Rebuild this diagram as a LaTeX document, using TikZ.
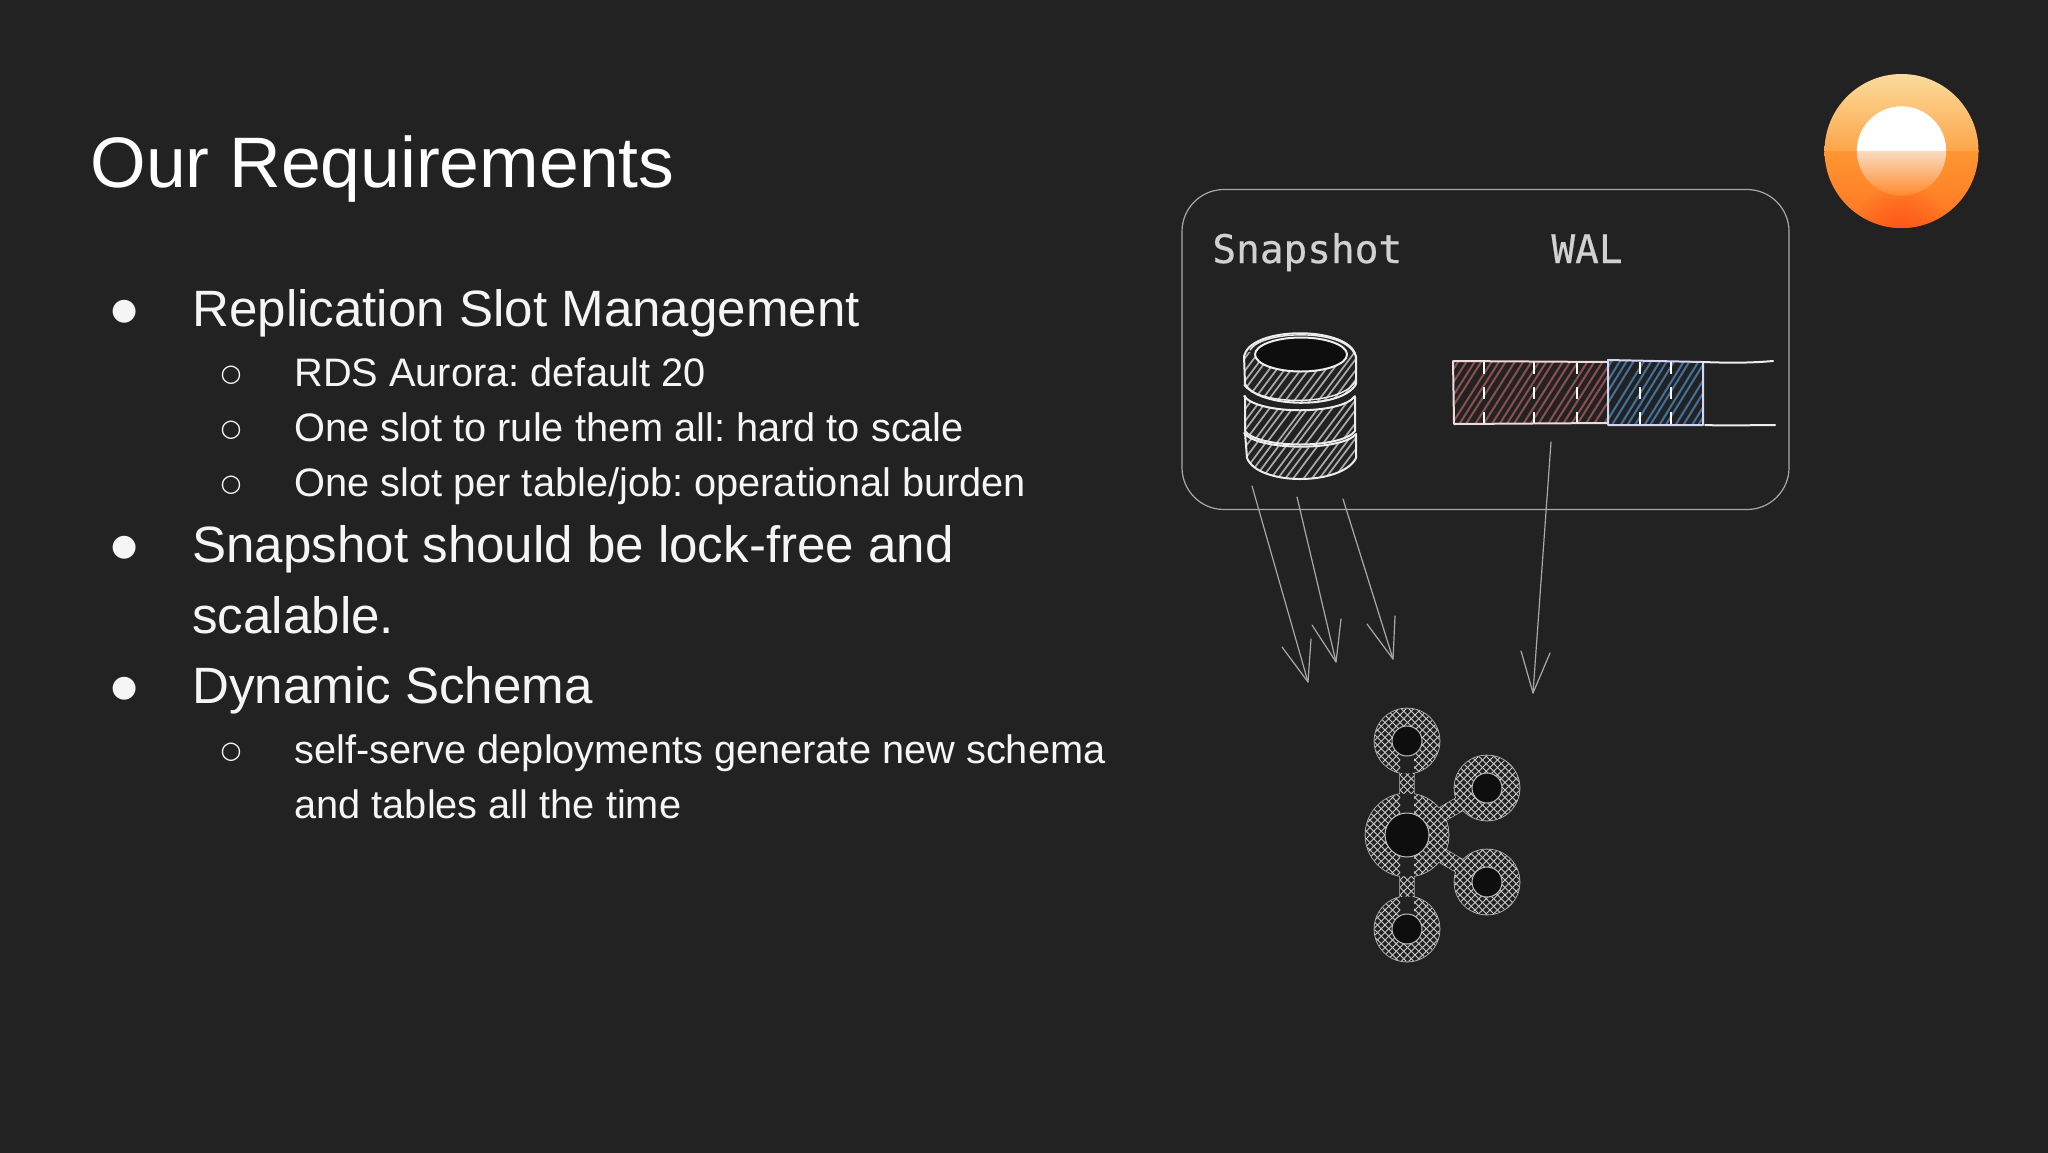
\documentclass[tikz,border=0pt]{standalone}
\usepackage{fontspec}
\setmainfont{Liberation Sans}
\newfontfamily\symfont{DejaVu Sans}
\newfontfamily\monofont[FakeBold=0.5]{DejaVu Sans Mono}
\usetikzlibrary{fadings}
\frenchspacing
\definecolor{bgc}{HTML}{222222}
\definecolor{bodyc}{HTML}{F5F5F5}
\definecolor{sketch}{HTML}{EDEDED}
\definecolor{thin}{HTML}{A8A8A8}
\definecolor{hole}{HTML}{0E0E0E}
\definecolor{redh}{HTML}{8C4F50}
\definecolor{blueh}{HTML}{42719B}
\definecolor{greyh}{HTML}{ABABAB}
\definecolor{sunA}{HTML}{FBDC9C}
\definecolor{sunB}{HTML}{FDA54A}
\definecolor{sunC}{HTML}{FF9632}
\definecolor{sunD}{HTML}{FF7422}
\definecolor{sunE}{HTML}{FF5518}
\definecolor{sunF}{HTML}{F9DCC0}
\definecolor{sunG}{HTML}{FF8A2C}
\tikzfading[name=sunglow,inner color=transparent!0,outer color=transparent!100]
\tikzset{
  title/.style={anchor=base west,inner sep=0,text=white,font=\fontsize{35.75}{40}\selectfont},
  lone/.style={anchor=base west,inner sep=0,text=bodyc,font=\fontsize{25.55}{30}\selectfont},
  ltwo/.style={anchor=base west,inner sep=0,text=bodyc,font=\fontsize{19.88}{24}\selectfont},
  bulone/.style={anchor=base,inner sep=0,text=bodyc,font=\symfont\fontsize{15}{20}\selectfont},
  bultwo/.style={anchor=base,inner sep=0,text=bodyc,font=\symfont\fontsize{12}{16}\selectfont},
  mono/.style={anchor=base west,inner sep=0,text=black!18!white,font=\monofont\fontsize{19.7}{24}\selectfont},
  framebox/.style={draw=thin,line width=.6pt,rounded corners=21pt,minimum width=303.5pt,minimum height=160pt,inner sep=0},
  link/.style={draw=thin,line width=.6pt,line cap=round,line join=round},
  ink/.style={draw=sketch,line width=1pt,line cap=round,line join=round},
  hatchr/.style={draw=redh,line width=1pt},
  hatchb/.style={draw=blueh,line width=1pt},
  hatchg/.style={draw=greyh,line width=.85pt},
  cross/.style={draw=black!20!white,line width=.42pt},
  ringedge/.style={draw=black!25!white,line width=.8pt},
  dash on bar/.style={draw=white,line width=.9pt,dash pattern=on 6pt off 6.5pt}
}
\begin{document}
\begin{tikzpicture}[x=.5pt,y=-.5pt]
\pgfmathsetseed{7}
\useasboundingbox (0,0) rectangle (2048,1152);
\fill[bgc] (-10,-10) rectangle (2058,1162);

% text
\node[title] (ttl) at (90,187) {Our Requirements};
\node[lone] (a1) at (192,326) {Replication Slot Management};
\node[ltwo] (a2) at (294,386) {RDS Aurora: default 20};
\node[ltwo] (a3) at (294,441) {One slot to rule them all: hard to scale};
\node[ltwo] (a4) at (294,496) {One slot per table/job: operational burden};
\node[lone] (a5) at (192,562) {Snapshot should be lock-free and};
\node[lone] (a6) at (192,633) {scalable.};
\node[lone] (a7) at (192,703) {Dynamic Schema};
\node[ltwo] (a8) at (294,763) {self-serve deployments generate new schema};
\node[ltwo] (a9) at (294,818) {and tables all the time};
\node[bulone] (b1) at (125,319) {●};
\node[bultwo] (b2) at (231,381) {○};
\node[bultwo] (b3) at (231,436) {○};
\node[bultwo] (b4) at (231,491) {○};
\node[bulone] (b5) at (125,555) {●};
\node[bulone] (b6) at (125,696) {●};
\node[bultwo] (b7) at (231,758) {○};

% sun
\begin{scope}
\clip (1901.5,151) circle (77);
\shade[top color=sunA,bottom color=sunB] (1824,74) rectangle (1979,151);
\shade[top color=sunC,bottom color=sunD] (1824,151) rectangle (1979,228);
\fill[sunE,path fading=sunglow] (1901.5,232) circle (50);
\end{scope}
\begin{scope}
\clip (1901.5,151) circle (44.7);
\fill[white] (1850,100) rectangle (1950,151);
\shade[top color=sunF,bottom color=sunG] (1850,151) rectangle (1950,196);
\end{scope}

% frame and labels
\node[framebox] (frame) at (1485.5,349.5) {};
\node[mono] (snap) at (1212,263) {Snapshot};
\node[mono] (wal) at (1551,263) {WAL};

% cylinder
\begin{scope}
\clip (1244,352) -- (1356,352) -- (1356,385) .. controls (1345,408) and (1255,408) .. (1244,385) -- cycle;
\foreach \i in {1190,1198,...,1360} \draw[hatchg] ({\i+1.5*rand},410) -- ++(45,-60);
\end{scope}
\begin{scope}
\clip (1245,396) .. controls (1258,416) and (1342,416) .. (1355,396) -- (1355,430) .. controls (1342,450) and (1258,450) .. (1245,430) -- cycle;
\foreach \i in {1190,1198,...,1360} \draw[hatchg] ({\i+1.5*rand},450) -- ++(45,-60);
\end{scope}
\begin{scope}
\clip (1245,434) .. controls (1258,452) and (1342,452) .. (1355,434) -- (1356,458) .. controls (1342,486) and (1258,486) .. (1247,458) -- cycle;
\foreach \i in {1190,1198,...,1360} \draw[hatchg] ({\i+1.5*rand},490) -- ++(45,-60);
\end{scope}
\fill[hole] (1301,354.5) ellipse (46 and 17);
\draw[ink] (1301,354.5) ellipse (46 and 17);
\draw[ink] (1244,358) .. controls (1246,325) and (1354,325) .. (1356,358);
\draw[ink,line width=.7pt] (1250,350) .. controls (1262,330) and (1345,328) .. (1355,355);
\draw[ink] (1244,356) -- (1245,384) .. controls (1258,408) and (1342,410) .. (1356,384) -- (1356,356);
\draw[ink,line width=.7pt] (1244,385) .. controls (1260,406) and (1340,406) .. (1355,382);
\draw[ink] (1244,396) .. controls (1258,415) and (1342,415) .. (1355,396);
\draw[ink] (1245,396) -- (1245,431) .. controls (1258,449) and (1342,449) .. (1355,431) -- (1355,397);
\draw[ink] (1244,433) .. controls (1258,451) and (1342,451) .. (1356,434);
\draw[ink] (1245,433) -- (1247,458) .. controls (1258,486) and (1342,486) .. (1356,458) -- (1356,434);

% WAL bar
\begin{scope}
\clip (1453,361) rectangle (1608,423);
\foreach \i in {1410,1418,...,1610} \draw[hatchr] ({\i+1.5*rand},425) -- ++(42,-66);
\end{scope}
\begin{scope}
\clip (1608,361) rectangle (1703,425);
\foreach \i in {1570,1578,...,1710} \draw[hatchb] ({\i+1.5*rand},427) -- ++(42,-68);
\end{scope}
\foreach \x in {1484,1534,1577,1640,1671} \draw[dash on bar] (\x,362) -- (\x,424);
\draw[ink,draw=sketch!92!red] (1453,361) -- (1608,362) (1453,361) -- (1454,424) -- (1608,423);
\draw[ink,draw=sketch!90!blue] (1608,360) -- (1703,362) -- (1703,425) -- (1608,425) -- cycle;
\coordinate (tailtopa) at (1703,362);
\coordinate (tailtopb) at (1773,361);
\coordinate (tailbota) at (1705,425);
\coordinate (tailbotb) at (1775,425);
\draw[ink] (tailtopa) .. controls (1730,363) and (1750,363) .. (tailtopb);
\draw[ink] (tailbota) .. controls (1730,426) and (1750,425) .. (tailbotb);

% kafka
\coordinate (kc) at (1407,835);
\coordinate (kt) at (1407,741);
\coordinate (kb) at (1407,929);
\coordinate (ku) at (1487,788);
\coordinate (kl) at (1487,882);
\foreach \p in {kt,kb,ku,kl} \draw[ringedge] (\p) circle (32.5);
\draw[ringedge] (kc) circle (41.5);
\draw[ringedge,line width=7.6pt] (kc) -- (kt) (kc) -- (kb) (kc) -- (ku) (kc) -- (kl);
\foreach \p in {kt,kb,ku,kl} \fill[bgc] (\p) circle (32.5);
\fill[bgc] (kc) circle (41.5);
\draw[line width=7pt,bgc] (kc) -- (kt) (kc) -- (kb) (kc) -- (ku) (kc) -- (kl);
\begin{scope}
\clip (kt) circle (32.5) (kb) circle (32.5) (ku) circle (32.5) (kl) circle (32.5) (kc) circle (41.5)
 (1400,741) rectangle (1414,929)
 (1403,829) -- (1483,782) -- (1491,794) -- (1411,841) -- cycle
 (1411,829) -- (1491,876) -- (1483,888) -- (1403,841) -- cycle;
\foreach \i in {0,3.75,...,500} {
  \draw[cross] (1000+\i*2,690) -- ++(300,300);
  \draw[cross] (1200+\i*2,690) -- ++(-300,300);
}
\end{scope}
\foreach \p in {kt,kb,ku,kl} {\fill[hole] (\p) circle (15);\draw[ringedge,line width=.5pt] (\p) circle (15);}
\fill[hole] (kc) circle (22);
\draw[ringedge,line width=.5pt] (kc) circle (22);

% arrows
\coordinate (s1) at (1252,486); \coordinate (e1) at (1308,682);
\coordinate (s2) at (1297,497); \coordinate (e2) at (1336,662);
\coordinate (s3) at (1343,499); \coordinate (e3) at (1393,659);
\coordinate (s4) at (1551,442); \coordinate (e4) at (1533,693);
\draw[link] (s1) -- (e1);
\draw[link] (1282,647) -- (e1) -- (1311,639);
\draw[link] (s2) -- (e2);
\draw[link] (1312,625) -- (e2) -- (1341,619);
\draw[link] (s3) -- (e3);
\draw[link] (1367,624) -- (e3) -- (1395,616);
\draw[link] (s4) -- (e4);
\draw[link] (1521,651) -- (e4) -- (1550,653);
\end{tikzpicture}
\end{document}
